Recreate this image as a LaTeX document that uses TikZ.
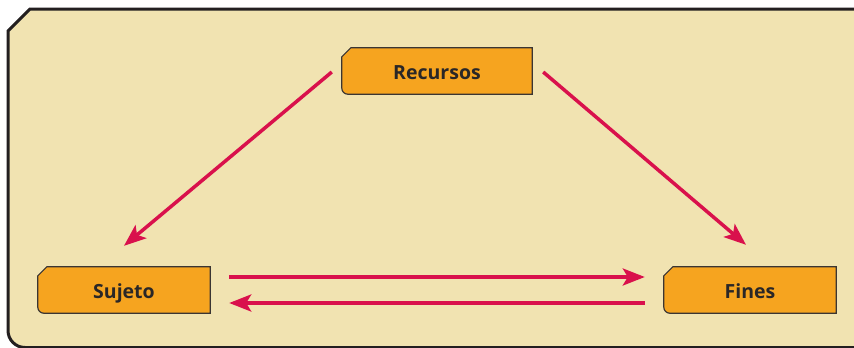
\documentclass[tikz,border=0pt]{standalone}
\usepackage{fontspec}
\setmainfont{Open Sans}
\usetikzlibrary{arrows.meta,calc,backgrounds}
\definecolor{bg}{HTML}{F1E3B1}
\definecolor{framec}{HTML}{231F20}
\definecolor{boxfill}{HTML}{F6A41F}
\definecolor{boxline}{HTML}{3A3533}
\definecolor{arrowc}{HTML}{D9114C}
\definecolor{txt}{HTML}{2A2727}
\begin{document}
\begin{tikzpicture}[x=1pt,y=-1pt,
  tag/.style={minimum height=46pt, inner sep=0pt, text height=18pt, text depth=2pt,
    font=\fontsize{19.5}{21}\selectfont\bfseries, text=txt},
  link/.style={draw=arrowc, line width=3.5pt,
    -{Stealth[length=22pt,width=17pt,inset=5pt]}},
  boxshape/.style={draw=boxline, line width=1.2pt, fill=boxfill},
  framebox/.style={draw=framec, line width=3pt, fill=bg}]
\useasboundingbox (0,0) rectangle (854,348);
\node[tag, minimum width=190pt] (rec) at (437,71) {Recursos};
\node[tag, minimum width=172pt] (suj) at (124,290) {Sujeto};
\node[tag, minimum width=172pt] (fin) at (750,290) {Fines};
\begin{scope}[on background layer]
  \fill[white] (0,0) rectangle (854,348);
  \draw[framebox] (8,31) -- (30,9) -- (875,9) -- (875,347.5) -- (25,347.5)
    arc[start angle=90,end angle=180,radius=17] -- cycle;
  \foreach \n in {rec,suj,fin}{
    \draw[boxshape] ($(\n.north west)+(9,0)$) -- (\n.north east) -- (\n.south east)
      -- ($(\n.south west)+(6,0)$) arc[start angle=90,end angle=180,radius=6]
      -- ($(\n.north west)+(0,9)$) -- cycle;
  }
\end{scope}
\draw[link] ($(rec.west)+(-10,1)$) -- ($(suj.north)+(0,-21)$);
\draw[link] ($(rec.east)+(11,1)$) -- ($(fin.north)+(-4,-22)$);
\draw[link] ($(suj.east)+(19,-13)$) -- ($(fin.west)+(-19,-13)$);
\draw[link] ($(fin.west)+(-19,13)$) -- ($(suj.east)+(19,13)$);
\end{tikzpicture}
\end{document}
